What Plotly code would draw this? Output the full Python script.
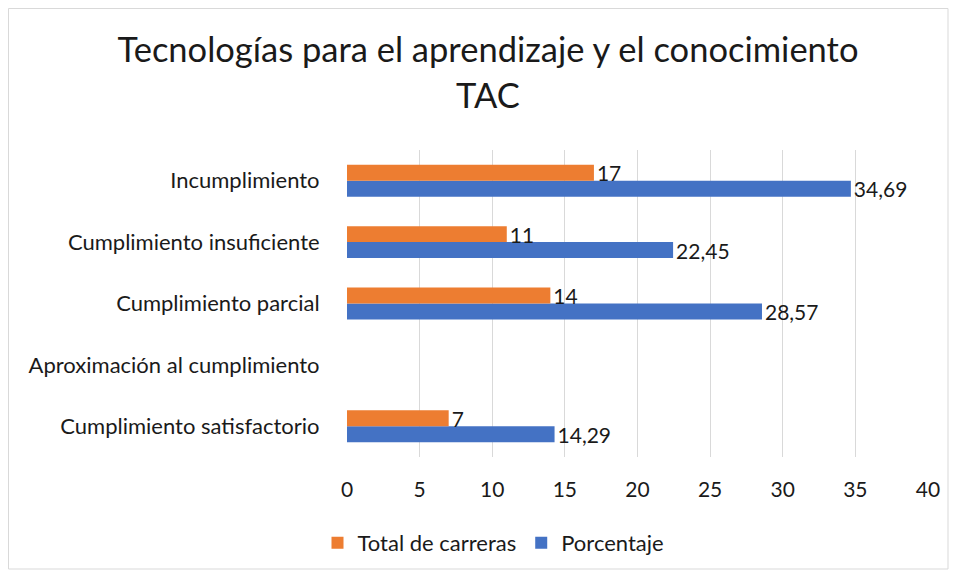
import plotly.graph_objects as go

categories = ["Cumplimiento satisfactorio", "Aproximación al cumplimiento",
              "Cumplimiento parcial", "Cumplimiento insuficiente", "Incumplimiento"]
total_carreras = [7, None, 14, 11, 17]
porcentaje = [14.29, None, 28.57, 22.45, 34.69]
x_ticks = [0, 5, 10, 15, 20, 25, 30, 35, 40]

def fmt(v, dec):
    if v is None:
        return ""
    return (f"{v:.{dec}f}").replace(".", ",")

FONT = "Lato"
TXT = "#1a1a1a"
W, H = 941, 569
ML, MR, MT, MB = 339, 21, 142, 120

fig = go.Figure()
fig.add_trace(go.Bar(
    y=categories, x=porcentaje, orientation="h", name="Porcentaje",
    marker=dict(color="#4472C4", line=dict(width=0)),
    text=[fmt(v, 2) for v in porcentaje], textposition="outside",
    constraintext="none",
    textfont=dict(family=FONT, size=21, color=TXT), cliponaxis=False,
))
fig.add_trace(go.Bar(
    y=categories, x=total_carreras, orientation="h", name="Total de carreras",
    marker=dict(color="#ED7D31", line=dict(width=0)),
    text=[fmt(v, 0) for v in total_carreras], textposition="outside",
    constraintext="none",
    textfont=dict(family=FONT, size=21, color=TXT), cliponaxis=False,
))

pw = W - ML - MR
ph = H - MT - MB

fig.update_layout(
    width=W, height=H,
    margin=dict(l=ML, r=MR, t=MT, b=MB, autoexpand=False),
    paper_bgcolor="white", plot_bgcolor="white",
    barmode="group", bargap=0.48, bargroupgap=0,
    font=dict(family=FONT, color=TXT),
    title=dict(text="Tecnologías para el aprendizaje y el conocimiento",
               x=480 / W, xanchor="center", yref="container",
               y=1 - 42 / H, yanchor="middle",
               font=dict(family=FONT, size=34.5, color=TXT)),
    xaxis=dict(range=[0, 40], tickvals=x_ticks, showgrid=True,
               gridcolor="#D9D9D9", gridwidth=1, zeroline=False,
               showline=False, tickfont=dict(family=FONT, size=21, color=TXT),
               ticks="outside", ticklen=14, tickcolor="rgba(0,0,0,0)",
               fixedrange=True, automargin=False),
    yaxis=dict(categoryorder="array", categoryarray=categories,
               showgrid=False, zeroline=False, showline=False,
               tickfont=dict(family=FONT, size=22, color=TXT),
               ticks="outside", ticklen=22, tickcolor="rgba(0,0,0,0)",
               automargin=False),
    legend=dict(orientation="h", x=(485.5 - ML) / pw, xanchor="center",
                y=-(535 - (MT + ph)) / ph, yanchor="middle",
                traceorder="reversed", itemwidth=30,
                font=dict(family=FONT, size=22, color=TXT)),
    showlegend=True,
)

fig.add_annotation(text="TAC", xref="paper", yref="paper",
                   x=(480 - ML) / pw, y=1 + (MT - 87) / ph,
                   xanchor="center", yanchor="middle", showarrow=False,
                   font=dict(family=FONT, size=34.5, color=TXT))

fig.add_shape(type="rect", xref="paper", yref="paper",
              x0=(0.5 - ML) / pw, x1=(940 - ML) / pw,
              y0=-(561 - MT - ph) / ph, y1=1 + (MT - 0.5) / ph,
              line=dict(color="#D9D9D9", width=1), fillcolor="rgba(0,0,0,0)",
              layer="below")

fig.write_html("out.html")
